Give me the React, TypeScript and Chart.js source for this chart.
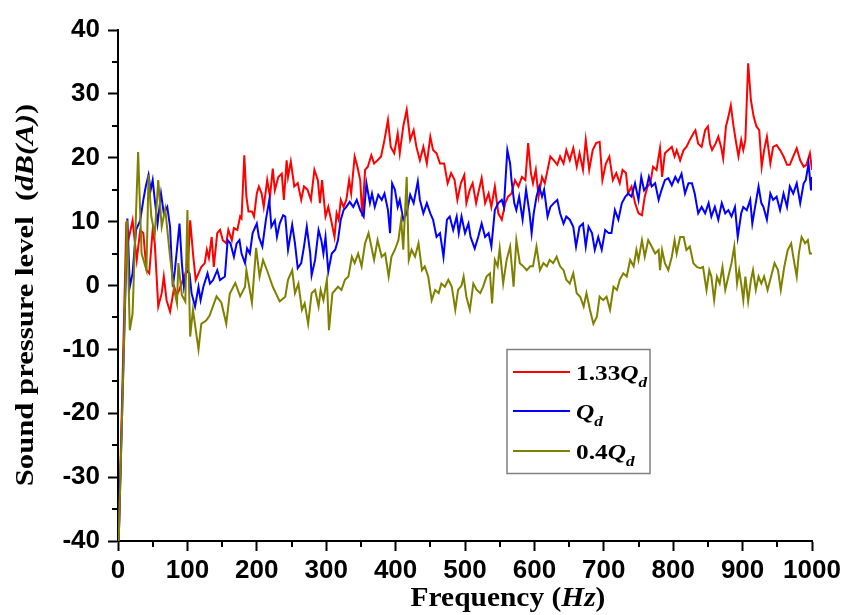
import React, { useEffect, useRef } from "react";
import { Chart, registerables } from "chart.js";

Chart.register(...registerables);

// ---- axis ticks ----
const xTickValues = [0, 100, 200, 300, 400, 500, 600, 700, 800, 900, 1000];
const yTickValues = [-40, -30, -20, -10, 0, 10, 20, 30, 40];
const xMinorTicks = [50, 150, 250, 350, 450, 550, 650, 750, 850, 950];
const yMinorTicks = [-35, -25, -15, -5, 5, 15, 25, 35];

// ---- series labels ----
const seriesNames = ["1.33Qd", "Qd", "0.4Qd"];

// ---- 1.33 Qd (red) ----
const redFreq = [1, 12, 15, 21, 27, 32, 36.5, 41, 45, 50, 53, 58, 63, 66, 70, 75, 81, 85, 89, 97, 101, 104, 108.5, 112, 116, 120, 125, 128, 131, 135, 138, 143, 147, 151, 156, 159, 164, 167, 172, 176, 178, 182, 185, 188, 193, 196, 200, 203, 207, 210, 215, 219, 223, 226, 231, 236, 239, 243, 245, 249, 254, 259, 264, 268, 273, 278, 283, 288, 291, 294, 299, 303, 307, 312, 315, 318, 321, 325, 329, 333, 336, 341, 345, 349, 352, 356, 360, 365, 369, 374, 379, 384, 389, 393, 398, 403, 406, 411, 416, 421, 426, 430, 435, 440, 445, 450, 454, 459, 464, 470, 475, 480, 485, 489, 494, 499, 502, 507, 511, 516, 519, 524, 529, 534, 538, 543, 548, 553, 558, 562, 567, 572, 577, 582, 587, 591, 595, 598, 602, 606, 611, 615, 619, 623, 628, 633, 637, 642, 646, 651, 656, 661, 665, 670, 674, 679, 684, 689, 694, 698, 703, 708, 713, 718, 723, 727, 732, 735, 740, 745, 750, 755, 759, 763, 767, 771, 776, 781, 784, 788, 793, 798, 802, 805, 810, 815, 819, 824, 829, 832, 836, 841, 846, 850, 853, 856, 861, 865, 869, 872, 876, 879.5, 883, 887, 890, 894, 898, 901, 904, 908, 912, 916, 920, 924, 927.5, 931, 935, 940, 944, 949, 954, 959, 964, 968, 973, 978, 983, 988, 992, 997, 1000];
const redLevel = [-40, 10, 7.1, 10.2, 4, 8.7, 8.2, 2.4, 1.9, 8.7, 6.6, -3.3, -1.2, 1.4, -2.3, -4.1, -0.2, -1.5, -0.5, 1.9, 3.5, 10.2, 4.5, 0.85, 1.9, 2.9, 3.5, 5.6, 4.3, 7.6, 2.9, 8.2, 8.7, 7.1, 6.6, 8.7, 7.1, 9, 8.7, 10.8, 10.5, 20.4, 13.9, 11.6, 11.6, 10.8, 14.4, 15.5, 14.4, 12.3, 16.5, 13.9, 18.3, 14.9, 17, 17.5, 13.4, 19.6, 17, 19.4, 15.5, 16, 13.4, 15.5, 15, 13.4, 18.1, 16.5, 12.9, 16.5, 10.8, 12.3, 10.3, 7.6, 11.3, 10.3, 13.4, 12.3, 13.4, 16.5, 14.4, 20.2, 18.6, 16.5, 10.8, 18.1, 18.6, 20.4, 19.1, 19.6, 20.2, 22.8, 25.9, 21.7, 20.7, 23.8, 20.7, 24.9, 27.5, 22.8, 24.3, 21.7, 19.6, 21.7, 19.1, 23.3, 21.2, 20.7, 19.1, 19.1, 16, 17.6, 16.5, 13.4, 16, 17.3, 12.9, 15, 16, 12.9, 14.4, 16.8, 12.9, 14.4, 12.3, 15.5, 11.3, 10.3, 12.9, 13.9, 14.4, 16.5, 15.5, 17, 16.5, 22.3, 17.6, 16, 18.1, 13.9, 17, 16, 18.1, 20.2, 19.6, 18.9, 20.2, 19.1, 21.2, 19.6, 21.5, 18.6, 20.7, 18.1, 22.8, 18.1, 21.2, 22.3, 22.5, 16.5, 19.1, 20.2, 16.5, 17.6, 16, 18.1, 17.6, 14.4, 15.5, 12.9, 11.3, 11, 13.9, 15.5, 16, 18.6, 18.1, 21.5, 17, 20.7, 21.2, 21.7, 20.2, 21.2, 19.6, 21.2, 21.7, 22.8, 23.8, 24.3, 22.2, 21.7, 24.3, 24.9, 22.2, 21.2, 22.2, 23.3, 21.7, 19.9, 24.9, 26.4, 28.2, 24.9, 22.8, 20.2, 22.8, 21.2, 22.8, 34.8, 29, 26.4, 24.9, 24.3, 18.6, 21.2, 23.3, 19.1, 21.7, 22, 21.2, 20.2, 18.9, 18.9, 20.2, 21.5, 19.6, 18.6, 18.9, 20.7, 18.1];

// ---- Qd (blue) ----
const blueFreq = [1, 13.5, 17, 21, 26, 32, 36.5, 40, 44, 47, 50, 53, 57, 62, 66, 71, 75, 79, 82, 88.6, 92, 95, 99, 103, 106, 111, 116, 119, 123, 129, 132.5, 137, 143, 147, 154, 158, 162, 167, 171, 175, 178, 183, 186, 190, 194, 200, 203, 208, 213, 218, 221, 226, 229, 233, 238, 241, 245, 251, 255, 259, 264, 268, 272, 277, 279, 284, 289, 293, 296, 299, 303, 308, 313, 317, 321, 325, 329, 334, 339, 344, 349, 354, 358, 363, 366, 370, 375, 380, 384, 389, 392, 395, 399, 403, 406, 411, 416, 421, 426, 432, 435, 440, 445, 450, 454, 459, 464, 469, 474, 478, 483, 488, 491, 495, 500, 505, 508, 514, 519, 524, 529, 534, 538, 543, 548, 553, 556, 561, 565, 567, 571, 574, 578, 583, 588, 593, 596, 599, 603, 607, 611, 614, 619, 623, 628, 633, 637, 642, 646, 651, 656, 660, 665, 670, 674, 678, 683, 687, 692, 697, 702, 707, 711, 716, 721, 726, 731, 735, 740, 745, 750, 754, 758, 762, 765, 769, 774, 779, 783, 788, 793, 798, 803, 807, 812, 817, 822, 827, 831, 836, 841, 846, 851, 855, 860, 865, 870, 875, 879.5, 884, 889, 893, 898, 901, 906, 911, 914, 918, 923, 927, 930, 935, 940, 944, 949, 954, 959, 964, 968, 973, 978, 983, 988, 991, 995, 998.6, 1000];
const blueLevel = [-40, 10.5, -0.2, 1.9, 8.7, 10.2, 13.4, 15.5, 17.3, 14.9, 16.5, 13.4, 9.7, 14.4, 11.3, 12.3, 9.2, -0.2, 2.4, 9.7, 3.5, -0.2, 2.4, 1.9, -1.2, -3.3, -0.2, -2.3, -0.2, 1.9, 0.3, 0.85, 2.4, 0.85, 1.4, 7.1, 6.6, 4.5, 6.6, 7.1, 5, 3.5, 5.8, 5, 8.2, 9.7, 7.6, 6.1, 10.2, 13.4, 9.2, 10.2, 7.6, 9.7, 11, 10.8, 5.6, 9.5, 6.6, 2.7, 3.5, 6.1, 9.2, 5, 1.6, 4, 8.7, 7.1, 5, 7.6, 2.2, 5, 5.6, 7.1, 10.3, 11.8, 12.3, 13.1, 12.3, 13.4, 11.8, 10.8, 16, 12.9, 14.4, 12.3, 14.2, 13.4, 14.4, 11.8, 8.2, 16, 15, 12.3, 13.4, 10.3, 11.3, 14.2, 12.9, 16.3, 13.4, 11.3, 12.9, 11.3, 10.3, 7.6, 8.2, 4.5, 10.3, 10.8, 8.7, 10.8, 8.2, 10.8, 8.2, 9.7, 7.6, 5.8, 7.6, 9.7, 7.6, 8.2, 6.1, 11.8, 12.9, 13.4, 12.3, 21.2, 19.1, 16.5, 12.9, 11.8, 13.9, 10.3, 15, 11.3, 8.2, 11.3, 13.9, 15.5, 13.9, 15, 10.8, 12.3, 12.9, 13.4, 11.3, 9.7, 10.8, 10.3, 9.2, 6.1, 9.2, 9.7, 6.1, 9.2, 8.2, 5.6, 7.6, 5.6, 8.7, 8.2, 8.2, 11.8, 10.3, 12.9, 13.9, 14.4, 13.9, 16, 13.4, 17, 14.9, 15.5, 17, 15.5, 16, 13.4, 14.9, 16.5, 16.8, 15.7, 17, 16.2, 17.5, 14.4, 16, 16, 14.4, 11.3, 12.3, 11.3, 12.9, 10.8, 12.3, 10.3, 12.9, 11.3, 11.8, 10.8, 12.3, 7.6, 11.3, 12.3, 11.8, 13.4, 9.7, 12.3, 15.5, 12.9, 12.3, 10.3, 14.4, 13.4, 13.9, 11.8, 14.4, 12.3, 15.5, 14.4, 16, 12.9, 16, 16.5, 19.1, 14.9, 17];

// ---- 0.4 Qd (olive) ----
const oliveFreq = [1, 8, 13, 17, 21, 29, 34, 41, 44, 48, 53, 58, 63, 68, 75, 80, 85, 87, 92, 97, 100, 104, 108, 116, 120, 127, 132, 142, 149, 156, 161, 169, 176, 183, 185, 193, 199, 204, 209, 216, 223, 233, 241, 245, 251, 255, 260, 265, 269, 274, 279, 284, 289, 292, 296, 301, 304, 309, 313, 317, 322, 327, 332, 337, 341, 346, 351, 356, 361, 366, 369, 374, 380, 385, 390, 394, 399, 404, 408, 411, 416, 419, 423, 428, 433, 438, 442, 447, 452, 457, 462, 466, 471, 476, 481, 486, 490, 495, 498, 502, 507, 512, 517, 522, 526, 531, 536, 539, 543, 547, 550, 555, 560, 565, 570, 574, 579, 584, 589, 594, 598, 603, 608, 613, 618, 622, 627, 632, 637, 642, 646, 651, 656, 661, 666, 671, 675, 680, 685, 690, 694, 699, 704, 709, 714, 719, 723, 728, 733, 738, 743, 747, 750, 755, 759, 764, 769, 774, 779, 781, 784, 788, 793, 798, 802, 805, 810, 815, 819, 824, 829, 834, 839, 843, 848, 852, 855, 859, 863, 867, 871, 875, 879.5, 884, 888, 892, 895, 898, 901, 904, 908, 912, 915, 919, 923, 927, 931, 936, 941, 946, 951, 955, 960, 965, 970, 973, 978, 981, 985, 990, 994, 997, 1000];
const oliveLevel = [-40, -11.7, 10.2, -7, -4.4, 20.9, 5, 2.4, 17.3, 10.8, 8, 16.5, 9.2, 12, 4.5, -0.2, -2.8, 3.5, -1.5, -2.5, 11.8, -8, -3.8, -10, -6, -5.5, -4.7, -1.7, -2.7, -6, -1.3, 0.4, -1.7, -0.2, 2.4, -2.7, 5.9, 1.4, 4, 2, -0.2, -2.5, -1.75, 0.9, 2.4, -1.2, 0.3, -3.8, -2.8, -6, -1.2, -0.7, -3.3, -0.7, -2.3, 0.9, -7, -1.2, -0.7, -0.2, -0.7, 0.9, 1.4, 4.5, 3.5, 5, 3, 6.6, 8.2, 5.6, 4, 7.1, 4.5, 5, 1.4, 4.5, 5.6, 7.1, 10.3, 5.6, 17, 4, 5.6, 4.5, 6.6, 2.4, 3, 1.4, -2.3, -0.7, -1.2, 0.3, -0.2, 0.9, -0.2, -3.8, -0.7, 0, 1.4, -1.75, -3.8, 0.3, -0.7, -1.2, -0.2, 1.4, 1.9, -2.8, 4, 3, 5.8, 0.3, 4, 6.1, -0.2, 7.1, 3.5, 3, 2.4, 3, 3, 6.1, 2.4, 3.5, 3, 4, 3.5, 4.5, 3, 2.4, 0.9, 0.3, 1.9, -1.2, -1.75, -3.3, -1.2, -3.8, -6, -4.9, -1.75, -2.3, -1.75, -3.8, -0.2, -0.7, 0.9, 1.9, 1.4, 4, 3, 5.6, 4, 7.1, 4.5, 7.1, 6.1, 5, 5.55, 2.4, 5.55, 3.5, 2.4, 4.5, 7.1, 5, 7.6, 7.6, 5.55, 6.1, 3.5, 2.9, 2.7, 2.9, -0.7, 2.4, 1.4, -2.3, 1.4, 0.3, 2.9, -0.7, 1.4, 3.5, 6.1, 0.3, 2.4, 0.3, -2.3, 1.4, -2.5, 0.85, 2.4, -0.7, 1.4, 0.3, 1.4, -0.7, 1.4, 3.5, 2.4, -0.7, 2.9, 5.55, 6.6, 4.5, 1.4, 5, 7.6, 6.6, 7.1, 5, 5];

const RED = "#ff0000";
const BLUE = "#0000ff";
const OLIVE = "#808000";

const SERIF = '"Liberation Serif", "Times New Roman", serif';
const SANS = '"Liberation Sans", Arial, sans-serif';

type Seg = { text: string; size: number; italic?: boolean; dy?: number };

function segFont(s: Seg) {
  return `${s.italic ? "italic " : ""}bold ${s.size}px ${SERIF}`;
}

function richWidth(ctx: CanvasRenderingContext2D, segs: Seg[]) {
  let w = 0;
  for (const s of segs) {
    ctx.font = segFont(s);
    w += ctx.measureText(s.text).width;
  }
  return w;
}

// draws rich text; (x,y) is the baseline start in local coords
function drawRich(ctx: CanvasRenderingContext2D, segs: Seg[], x: number, y: number) {
  let cx = x;
  for (const s of segs) {
    ctx.font = segFont(s);
    ctx.fillText(s.text, cx, y + (s.dy || 0));
    cx += ctx.measureText(s.text).width;
  }
}

function pairs(f: number[], v: number[]) {
  return f.map((x, i) => ({ x, y: v[i] }));
}

const decorPlugin = {
  id: "decor",
  afterDraw(chart: any) {
    const ctx: CanvasRenderingContext2D = chart.ctx;
    const xs = chart.scales.x;
    const ys = chart.scales.y;
    const area = chart.chartArea;
    ctx.save();
    // minor ticks
    ctx.strokeStyle = "#000";
    ctx.lineWidth = 2;
    ctx.beginPath();
    for (const v of xMinorTicks) {
      const px = Math.round(xs.getPixelForValue(v));
      ctx.moveTo(px, area.bottom);
      ctx.lineTo(px, area.bottom + 6);
    }
    for (const v of yMinorTicks) {
      const py = Math.round(ys.getPixelForValue(v));
      ctx.moveTo(area.left, py);
      ctx.lineTo(area.left - 6, py);
    }
    ctx.stroke();

    ctx.fillStyle = "#000";
    ctx.textBaseline = "alphabetic";
    ctx.textAlign = "left";

    // y-axis title
    const ySegs: Seg[] = [
      { text: "Sound pressure level  (", size: 26 },
      { text: "dB(A)", size: 26, italic: true },
      { text: ")", size: 26 },
    ];
    {
      const stretch = 1.18;
      const w = richWidth(ctx, ySegs);
      ctx.save();
      ctx.translate(33, 295);
      ctx.rotate(-Math.PI / 2);
      ctx.scale(stretch, 1);
      drawRich(ctx, ySegs, -w / 2, 0);
      ctx.restore();
    }

    // x-axis title
    const xSegs: Seg[] = [
      { text: "Frequency (", size: 27 },
      { text: "Hz", size: 27, italic: true },
      { text: ")", size: 27 },
    ];
    {
      const stretch = 1.09;
      const w = richWidth(ctx, xSegs);
      ctx.save();
      ctx.translate(508, 606);
      ctx.scale(stretch, 1);
      drawRich(ctx, xSegs, -w / 2, 0);
      ctx.restore();
    }

    // legend
    ctx.strokeStyle = "#808080";
    ctx.lineWidth = 1.5;
    ctx.strokeRect(507, 349.5, 143, 124);
    const items = [
      { color: RED, y: 372, segs: [{ text: "1.33", size: 22 }, { text: "Q", size: 22, italic: true }, { text: "d", size: 15, italic: true, dy: 7 }] as Seg[] },
      { color: BLUE, y: 411, segs: [{ text: "Q", size: 22, italic: true }, { text: "d", size: 15, italic: true, dy: 7 }] as Seg[] },
      { color: OLIVE, y: 451, segs: [{ text: "0.4", size: 22 }, { text: "Q", size: 22, italic: true }, { text: "d", size: 15, italic: true, dy: 7 }] as Seg[] },
    ];
    for (const it of items) {
      ctx.strokeStyle = it.color;
      ctx.lineWidth = 2;
      ctx.beginPath();
      ctx.moveTo(513, it.y);
      ctx.lineTo(570, it.y);
      ctx.stroke();
      ctx.save();
      ctx.translate(576, it.y + 8);
      ctx.scale(1.15, 1);
      drawRich(ctx, it.segs, 0, 0);
      ctx.restore();
    }
    ctx.restore();
  },
};

export default function App() {
  const ref = useRef<HTMLCanvasElement | null>(null);

  useEffect(() => {
    document.body.style.margin = "0";
    const canvas = ref.current;
    if (!canvas) return;
    const chart = new Chart(canvas, {
      type: "line",
      data: {
        datasets: [
          { label: seriesNames[2], data: pairs(oliveFreq, oliveLevel), borderColor: OLIVE, backgroundColor: OLIVE, borderWidth: 2, pointRadius: 0, tension: 0, fill: false },
          { label: seriesNames[1], data: pairs(blueFreq, blueLevel), borderColor: BLUE, backgroundColor: BLUE, borderWidth: 2, pointRadius: 0, tension: 0, fill: false },
          { label: seriesNames[0], data: pairs(redFreq, redLevel), borderColor: RED, backgroundColor: RED, borderWidth: 2, pointRadius: 0, tension: 0, fill: false },
        ],
      },
      options: {
        animation: false,
        responsive: false,
        devicePixelRatio: 1,
        layout: { padding: { top: 30, right: 33, left: 0, bottom: 0 } },
        plugins: { legend: { display: false }, tooltip: { enabled: false }, title: { display: false } },
        scales: {
          x: {
            type: "linear",
            min: 0,
            max: 1000,
            afterBuildTicks: (scale: any) => {
              scale.ticks = xTickValues.map((v) => ({ value: v }));
            },
            afterFit: (scale: any) => {
              scale.height = 74;
            },
            ticks: {
              autoSkip: false,
              maxRotation: 0,
              padding: 4,
              color: "#000",
              font: { family: SANS, size: 26, weight: "bold" },
              callback: (v: any) => String(v),
            },
            grid: { display: true, drawOnChartArea: false, drawTicks: true, tickLength: 10, tickWidth: 2, tickColor: "#000" },
            border: { display: true, color: "#000", width: 2 },
          },
          y: {
            type: "linear",
            min: -40,
            max: 40,
            afterBuildTicks: (scale: any) => {
              scale.ticks = yTickValues.map((v) => ({ value: v }));
            },
            afterFit: (scale: any) => {
              scale.width = 118;
            },
            ticks: {
              autoSkip: false,
              padding: 8,
              color: "#000",
              font: { family: SANS, size: 26, weight: "bold" },
              callback: (v: any) => String(v),
            },
            grid: { display: true, drawOnChartArea: false, drawTicks: true, tickLength: 10, tickWidth: 2, tickColor: "#000" },
            border: { display: true, color: "#000", width: 2 },
          },
        },
      },
      plugins: [decorPlugin],
    });
    return () => chart.destroy();
  }, []);

  return (
    <div style={{ width: 845, height: 615, overflow: "hidden", background: "#fff" }}>
      <canvas ref={ref} width={845} height={615} style={{ display: "block" }} />
    </div>
  );
}
